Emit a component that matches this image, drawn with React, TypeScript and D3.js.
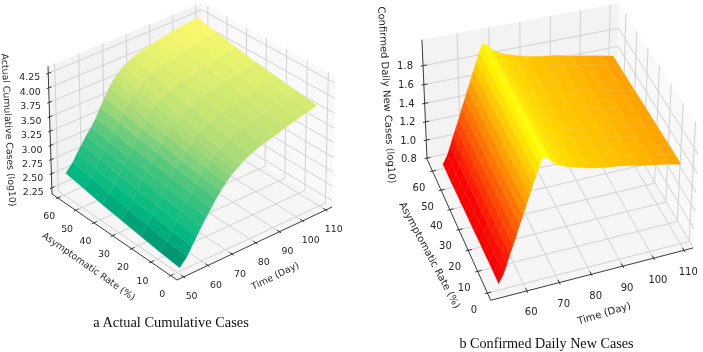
import React from "react";
import * as d3 from "d3";

// ---------- data ----------
const timeTicks = [50, 60, 70, 80, 90, 100, 110];
const timeTicksB = [60, 70, 80, 90, 100, 110];
const rateTicks = [0, 10, 20, 30, 40, 50, 60];
const cumulativeTicks = [2.25, 2.5, 2.75, 3.0, 3.25, 3.5, 3.75, 4.0, 4.25];
const dailyTicks = [0.8, 1.0, 1.2, 1.4, 1.6, 1.8];

const cumulativeTimes = [51, 54, 56, 58, 60, 62, 64, 66, 68, 70, 72, 74, 76, 80, 85, 90, 95, 100, 105, 108];
const cumulativeRates = [0, 10, 20, 30, 40, 50, 60];
const cumulativeR0 = [2.2, 2.33, 2.47, 2.6, 2.73, 2.85, 2.97, 3.09, 3.18, 3.28, 3.36, 3.42, 3.48, 3.57, 3.65, 3.7, 3.76, 3.82, 3.86, 3.9];
const cumulativeR10 = [2.24, 2.37, 2.51, 2.64, 2.77, 2.89, 3.01, 3.13, 3.23, 3.33, 3.42, 3.48, 3.54, 3.63, 3.71, 3.76, 3.81, 3.87, 3.91, 3.95];
const cumulativeR20 = [2.29, 2.42, 2.56, 2.68, 2.81, 2.93, 3.05, 3.18, 3.28, 3.39, 3.48, 3.55, 3.61, 3.7, 3.77, 3.82, 3.87, 3.93, 3.96, 4.0];
const cumulativeR30 = [2.34, 2.47, 2.61, 2.73, 2.86, 2.97, 3.09, 3.23, 3.34, 3.46, 3.55, 3.62, 3.68, 3.77, 3.84, 3.89, 3.94, 3.99, 4.02, 4.05];
const cumulativeR40 = [2.39, 2.53, 2.66, 2.78, 2.91, 3.01, 3.13, 3.28, 3.4, 3.52, 3.62, 3.69, 3.76, 3.85, 3.92, 3.96, 4.01, 4.06, 4.09, 4.11];
const cumulativeR50 = [2.45, 2.59, 2.72, 2.84, 2.96, 3.07, 3.19, 3.34, 3.47, 3.6, 3.7, 3.78, 3.85, 3.94, 4.0, 4.04, 4.09, 4.13, 4.16, 4.18];
const cumulativeR60 = [2.51, 2.65, 2.78, 2.9, 3.02, 3.12, 3.24, 3.4, 3.54, 3.68, 3.79, 3.87, 3.94, 4.03, 4.09, 4.13, 4.17, 4.21, 4.23, 4.25];
const cumulativeRows = [cumulativeR0, cumulativeR10, cumulativeR20, cumulativeR30, cumulativeR40, cumulativeR50, cumulativeR60];

const dailyTimes = [52.5, 54, 55, 56, 57, 58, 59, 60, 61, 62, 63, 64, 65, 66, 67, 68, 69, 71, 73, 76, 80, 85, 90, 95, 100, 105, 109];
const dailyProfile = [0.86, 0.95, 1.04, 1.14, 1.23, 1.32, 1.42, 1.51, 1.61, 1.7, 1.8, 1.89, 1.98, 2.06, 2.05, 2.02, 1.98, 1.94, 1.91, 1.88, 1.84, 1.81, 1.79, 1.75, 1.72, 1.69, 1.66];
const dailyRates = [0, 5, 10, 15, 20, 25, 30, 35, 40, 45, 50, 55, 60];
const dailyRateOffset = [0, 0, 0, -0.005, -0.005, -0.01, -0.01, -0.01, -0.015, -0.015, -0.02, -0.02, -0.02];
const dailyRows = dailyRateOffset.map((o) => dailyProfile.map((v) => v + o));

const cumulativeColorStops = [2.2, 2.55, 3.05, 3.5, 4.25];
const cumulativeColors = ["#008c6e", "#00b982", "#46c47e", "#a6d978", "#fffa69"];
const dailyColorStops = [0.96, 2.06];
const dailyColors = ["#ff0000", "#ffff00"];

// ---------- projection ----------
type Pt = [number, number];
interface Frame { F: Pt; R: Pt; B: Pt; L: Pt; TL: Pt; TR: Pt; TB: Pt; }

function det3(m: number[][]) {
  return m[0][0] * (m[1][1] * m[2][2] - m[1][2] * m[2][1]) - m[0][1] * (m[1][0] * m[2][2] - m[1][2] * m[2][0]) + m[0][2] * (m[1][0] * m[2][1] - m[1][1] * m[2][0]);
}

function makeCamera(f: Frame) {
  const [x0, y0] = f.F, [x1, y1] = f.R, [x2, y2] = f.B, [x3, y3] = f.L;
  const dx1 = x1 - x2, dx2 = x3 - x2, sx = x0 - x1 + x2 - x3;
  const dy1 = y1 - y2, dy2 = y3 - y2, sy = y0 - y1 + y2 - y3;
  const den = dx1 * dy2 - dx2 * dy1;
  const g = (sx * dy2 - dx2 * sy) / den;
  const h = (dx1 * sy - sx * dy1) / den;
  const U = [x1 - x0 + g * x1, y1 - y0 + g * y1, g];
  const V = [x3 - x0 + h * x3, y3 - y0 + h * y3, h];
  const O = [x0, y0, 1];
  // Fit the vertical column from the three visible top corners (least squares).
  const tops: [number[], Pt][] = [
    [[V[0] + O[0], V[1] + O[1], V[2] + O[2]], f.TL],
    [[U[0] + O[0], U[1] + O[1], U[2] + O[2]], f.TR],
    [[U[0] + V[0] + O[0], U[1] + V[1] + O[1], U[2] + V[2] + O[2]], f.TB],
  ];
  const rowsA: number[][] = [];
  const rhs: number[] = [];
  tops.forEach(([C, T]) => {
    rowsA.push([1, 0, -T[0]]); rhs.push(-(C[0] - T[0] * C[2]));
    rowsA.push([0, 1, -T[1]]); rhs.push(-(C[1] - T[1] * C[2]));
  });
  const N = [0, 1, 2].map((i) => [0, 1, 2].map((j) => d3.sum(rowsA, (r) => r[i] * r[j])));
  const b = [0, 1, 2].map((i) => d3.sum(rowsA, (r, k) => r[i] * rhs[k]));
  const D = det3(N);
  const W = [0, 1, 2].map((c) => det3(N.map((row, i) => row.map((v, j) => (j === c ? b[i] : v)))) / D);
  return (u: number, v: number, w: number): Pt => {
    const X = U[0] * u + V[0] * v + W[0] * w + O[0];
    const Y = U[1] * u + V[1] * v + W[1] * w + O[1];
    const Z = U[2] * u + V[2] * v + W[2] * w + O[2];
    return [X / Z, Y / Z];
  };
}

const poly = (pts: Pt[]) => "M" + pts.map((p) => p[0].toFixed(2) + "," + p[1].toFixed(2)).join("L") + "Z";

interface PanelProps {
  frame: Frame;
  fontSize: number;
  tRange: [number, number]; rRange: [number, number]; zRange: [number, number];
  tTicks: number[]; rTicks: number[]; zTicks: number[];
  zFormat: (v: number) => string;
  times: number[]; rates: number[]; rows: number[][];
  colorStops: number[]; colors: string[];
  tOffset: Pt; rOffset: Pt; zOffset: Pt;
  zLabel: { text: string; x: number; y: number; rot: number };
  rLabel: { x: number; y: number; rot: number };
  tLabel: { x: number; y: number; rot: number };
}

const TICK = "#262626";
const GRID = "#d2d2d2";
const FONT = "'DejaVu Sans'";

function Panel(p: PanelProps) {
  const cam = makeCamera(p.frame);
  const tS = d3.scaleLinear().domain(p.tRange).range([0, 1]);
  const rS = d3.scaleLinear().domain(p.rRange).range([0, 1]);
  const zS = d3.scaleLinear().domain(p.zRange).range([0, 1]);
  const col = d3.scaleLinear<string>().domain(p.colorStops).range(p.colors).interpolate(d3.interpolateRgb).clamp(true);
  const P = (t: number, r: number, z: number) => cam(tS(t), rS(r), zS(z));

  const line = d3.line();
  const grid: string[] = [];
  const seg = (a: Pt, b: Pt) => grid.push(line([a, b]) as string);
  p.tTicks.forEach((t) => {
    const u = tS(t);
    seg(cam(u, 0, 0), cam(u, 1, 0));
    seg(cam(u, 1, 0), cam(u, 1, 1));
  });
  p.rTicks.forEach((r) => {
    const v = rS(r);
    seg(cam(0, v, 0), cam(1, v, 0));
    seg(cam(1, v, 0), cam(1, v, 1));
  });
  p.zTicks.forEach((z) => {
    const w = zS(z);
    seg(cam(0, 1, w), cam(1, 1, w));
    seg(cam(1, 1, w), cam(1, 0, w));
  });

  const faces: { d: string; c: string }[] = [];
  for (let i = p.rates.length - 2; i >= 0; i--) {
    for (let j = p.times.length - 2; j >= 0; j--) {
      const a = p.rows[i][j], b = p.rows[i][j + 1], c = p.rows[i + 1][j + 1], e = p.rows[i + 1][j];
      faces.push({
        d: poly([P(p.times[j], p.rates[i], a), P(p.times[j + 1], p.rates[i], b), P(p.times[j + 1], p.rates[i + 1], c), P(p.times[j], p.rates[i + 1], e)]),
        c: col((a + b + c + e) / 4),
      });
    }
  }

  return (
    <g fontFamily={FONT} fontSize={p.fontSize} fill={TICK}>
      <path d={poly([cam(0, 1, 0), cam(1, 1, 0), cam(1, 1, 1), cam(0, 1, 1)])} fill="#f3f3f3" />
      <path d={poly([cam(1, 0, 0), cam(1, 1, 0), cam(1, 1, 1), cam(1, 0, 1)])} fill="#f9f9f9" />
      <path d={poly([cam(0, 0, 0), cam(1, 0, 0), cam(1, 1, 0), cam(0, 1, 0)])} fill="#f6f6f6" />
      {grid.map((d, i) => <path key={i} d={d} stroke={GRID} strokeWidth={1} fill="none" />)}
      {faces.map((f, i) => <path key={i} d={f.d} fill={f.c} stroke={f.c} strokeWidth={0.25} />)}
      <path d={line([cam(0, 1, 1), cam(0, 1, 0), cam(0, 0, 0), cam(1, 0, 0)]) as string} stroke={TICK} strokeWidth={0.9} fill="none" />
      {p.tTicks.map((t) => {
        const u = tS(t), q = cam(u, 0, 0);
        return (
          <g key={t}>
            <path d={line([cam(u, -0.012, 0), cam(u, 0.018, 0)]) as string} stroke={TICK} strokeWidth={0.9} />
            <text x={q[0] + p.tOffset[0]} y={q[1] + p.tOffset[1]} textAnchor="middle" dominantBaseline="central">{t}</text>
          </g>
        );
      })}
      {p.rTicks.map((r) => {
        const v = rS(r), q = cam(0, v, 0);
        return (
          <g key={r}>
            <path d={line([cam(-0.012, v, 0), cam(0.018, v, 0)]) as string} stroke={TICK} strokeWidth={0.9} />
            <text x={q[0] + p.rOffset[0]} y={q[1] + p.rOffset[1]} textAnchor="middle" dominantBaseline="central">{r}</text>
          </g>
        );
      })}
      {p.zTicks.map((z) => {
        const w = zS(z), q = cam(0, 1, w);
        return (
          <g key={z}>
            <path d={line([cam(-0.012, 1, w), cam(0.018, 1, w)]) as string} stroke={TICK} strokeWidth={0.9} />
            <text x={q[0] + p.zOffset[0]} y={q[1] + p.zOffset[1]} textAnchor="middle" dominantBaseline="central">{p.zFormat(z)}</text>
          </g>
        );
      })}
      <text transform={`translate(${p.zLabel.x},${p.zLabel.y}) rotate(${p.zLabel.rot})`} textAnchor="middle" dominantBaseline="central">{p.zLabel.text}</text>
      <text transform={`translate(${p.rLabel.x},${p.rLabel.y}) rotate(${p.rLabel.rot})`} textAnchor="middle" dominantBaseline="central">Asymptomatic Rate (%)</text>
      <text transform={`translate(${p.tLabel.x},${p.tLabel.y}) rotate(${p.tLabel.rot})`} textAnchor="middle" dominantBaseline="central">Time (Day)</text>
    </g>
  );
}

export default function App() {
  return (
    <svg width={703} height={352} style={{ position: "absolute", left: 0, top: 0, background: "#fff" }}>
      <defs>
        <filter id="soft" x="0" y="0" width="100%" height="100%">
          <feGaussianBlur stdDeviation="0.35" />
        </filter>
      </defs>
      <g filter="url(#soft)">
        <Panel
          fontSize={9.4}
          frame={{ F: [177, 280], R: [332, 207], B: [202, 128], L: [52, 194], TL: [47, 64], TR: [336, 74], TB: [202, 7] }}
          tRange={[47.3, 112.7]} rRange={[-3.2, 63.2]} zRange={[2.14, 4.37]}
          tTicks={timeTicks} rTicks={rateTicks} zTicks={cumulativeTicks}
          zFormat={d3.format(".2f")}
          times={cumulativeTimes} rates={cumulativeRates} rows={cumulativeRows}
          colorStops={cumulativeColorStops} colors={cumulativeColors}
          tOffset={[8, 19]} rOffset={[-8.5, 18]} zOffset={[-18.5, 3.5]}
          zLabel={{ text: "Actual Cumulative Cases (log10)", x: 9, y: 130, rot: 87 }}
          rLabel={{ x: 89, y: 266, rot: 35 }}
          tLabel={{ x: 275, y: 275.5, rot: -26 }}
        />
        <Panel
          fontSize={10}
          frame={{ F: [490.7, 300.3], R: [693, 248], B: [616, 118], L: [427, 159], TL: [420, 48], TR: [702, 120], TB: [618.7, 3] }}
          tRange={[49.1, 113]} rRange={[-3.3, 66.5]} zRange={[0.79, 2.07]}
          tTicks={timeTicksB} rTicks={rateTicks} zTicks={dailyTicks}
          zFormat={d3.format(".1f")}
          times={dailyTimes} rates={dailyRates} rows={dailyRows}
          colorStops={dailyColorStops} colors={dailyColors}
          tOffset={[4.3, 21]} rOffset={[-13.5, 16]} zOffset={[-18, 0]}
          zLabel={{ text: "Confirmed Daily New Cases (log10)", x: 387, y: 95, rot: 86.5 }}
          rLabel={{ x: 430, y: 255, rot: 62 }}
          tLabel={{ x: 604, y: 313, rot: -17 }}
        />
        <text x={171} y={327} textAnchor="middle" fontFamily="'Liberation Serif'" fontSize={14.4} fill="#111">a Actual Cumulative Cases</text>
        <text x={546.5} y={347.5} textAnchor="middle" fontFamily="'Liberation Serif'" fontSize={14.2} fill="#111">b Confirmed Daily New Cases</text>
      </g>
    </svg>
  );
}
